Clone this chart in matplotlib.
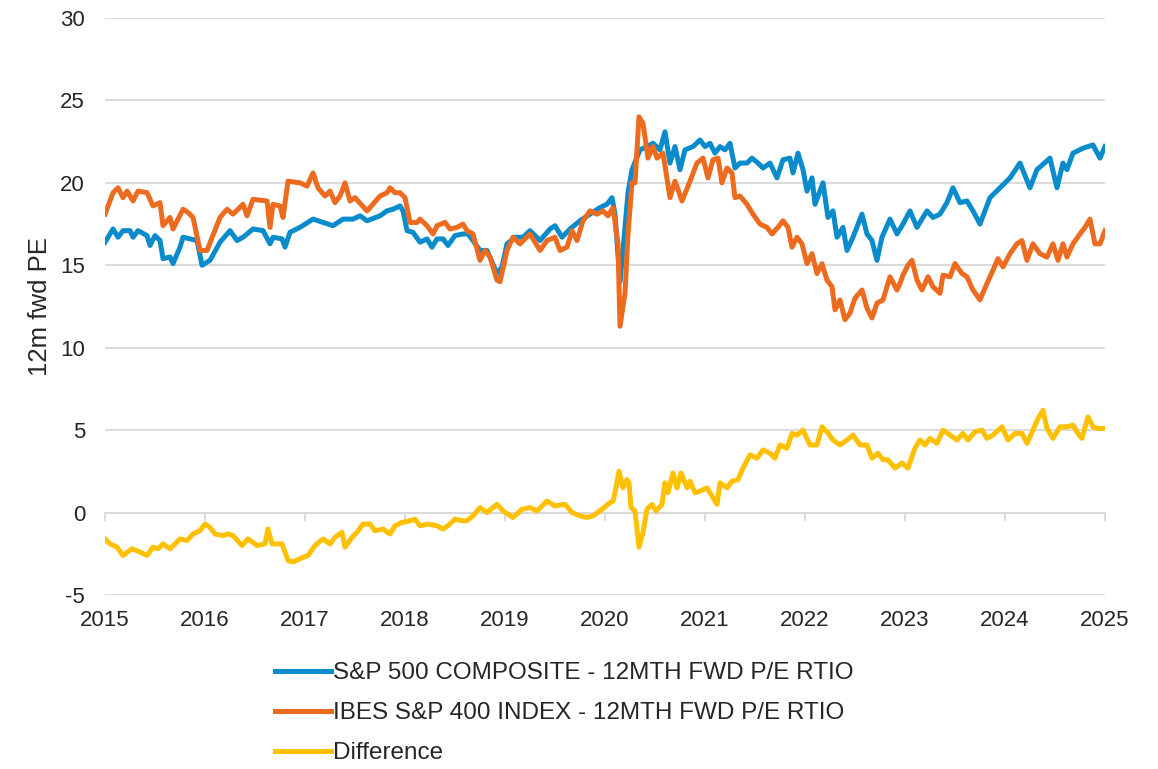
import matplotlib
matplotlib.use('Agg')
from matplotlib import pyplot as plt

# S&P 500 12m fwd PE
spx_t = [2015.00, 2015.08, 2015.13, 2015.18, 2015.25, 2015.28, 2015.33, 2015.42, 2015.45, 2015.50,
         2015.55, 2015.58, 2015.65, 2015.68, 2015.75, 2015.78, 2015.85, 2015.92, 2015.97, 2016.05,
         2016.15, 2016.25, 2016.32, 2016.38, 2016.48, 2016.58, 2016.65, 2016.68, 2016.77, 2016.80,
         2016.85, 2016.95, 2017.08, 2017.18, 2017.28, 2017.38, 2017.48, 2017.55, 2017.62, 2017.75,
         2017.82, 2017.88, 2017.95, 2017.98, 2018.02, 2018.08, 2018.15, 2018.22, 2018.27, 2018.32,
         2018.38, 2018.43, 2018.50, 2018.58, 2018.63, 2018.68, 2018.75, 2018.82, 2018.92, 2018.97,
         2019.02, 2019.10, 2019.18, 2019.25, 2019.35, 2019.45, 2019.50, 2019.57, 2019.65, 2019.75,
         2019.85, 2019.95, 2020.02, 2020.07, 2020.10, 2020.15, 2020.18, 2020.23, 2020.27, 2020.35,
         2020.42, 2020.48, 2020.55, 2020.60, 2020.65, 2020.70, 2020.75, 2020.80, 2020.88, 2020.95,
         2021.00, 2021.05, 2021.10, 2021.15, 2021.20, 2021.25, 2021.30, 2021.35, 2021.42, 2021.47,
         2021.53, 2021.58, 2021.65, 2021.72, 2021.78, 2021.85, 2021.88, 2021.93, 2021.98, 2022.02,
         2022.07, 2022.10, 2022.18, 2022.23, 2022.28, 2022.32, 2022.38, 2022.42, 2022.48, 2022.57,
         2022.62, 2022.67, 2022.72, 2022.77, 2022.85, 2022.92, 2022.98, 2023.05, 2023.12, 2023.22,
         2023.28, 2023.35, 2023.42, 2023.48, 2023.55, 2023.62, 2023.68, 2023.75, 2023.85, 2023.95,
         2024.05, 2024.15, 2024.25, 2024.32, 2024.45, 2024.52, 2024.58, 2024.62, 2024.68, 2024.78,
         2024.88, 2024.95, 2025.00]
spx_pe = [16.4, 17.2, 16.7, 17.1, 17.1, 16.7, 17.1, 16.8, 16.2, 16.8,
          16.5, 15.4, 15.5, 15.1, 16.1, 16.7, 16.6, 16.5, 15.0, 15.3,
          16.4, 17.1, 16.5, 16.7, 17.2, 17.1, 16.3, 16.7, 16.6, 16.1,
          17.0, 17.3, 17.8, 17.6, 17.4, 17.8, 17.8, 18.0, 17.7, 18.0,
          18.3, 18.4, 18.6, 18.3, 17.1, 17.0, 16.4, 16.6, 16.1, 16.6,
          16.6, 16.2, 16.8, 16.9, 16.9, 16.5, 15.9, 15.9, 14.5, 14.9,
          16.3, 16.7, 16.7, 17.1, 16.5, 17.2, 17.4, 16.7, 17.2, 17.7,
          18.1, 18.5, 18.7, 19.1, 18.1, 14.0, 15.9, 19.4, 20.8, 22.0,
          22.2, 22.4, 22.0, 23.1, 21.2, 22.2, 20.8, 22.0, 22.2, 22.6,
          22.2, 22.4, 21.8, 22.2, 22.0, 22.4, 20.9, 21.2, 21.2, 21.5,
          21.2, 20.9, 21.2, 20.3, 21.4, 21.5, 20.6, 21.8, 20.8, 19.5,
          20.3, 18.7, 20.0, 17.9, 18.3, 16.7, 17.3, 15.9, 16.7, 18.1,
          16.9, 16.5, 15.3, 16.7, 17.8, 16.9, 17.5, 18.3, 17.3, 18.3,
          17.9, 18.1, 18.8, 19.7, 18.8, 18.9, 18.3, 17.5, 19.1, 19.7,
          20.3, 21.2, 19.7, 20.8, 21.5, 19.7, 21.2, 20.8, 21.8, 22.1,
          22.3, 21.5, 22.2]

# S&P 400 12m fwd PE
mid_t = [2015.00, 2015.08, 2015.13, 2015.18, 2015.22, 2015.28, 2015.33, 2015.42, 2015.48, 2015.55,
         2015.58, 2015.65, 2015.68, 2015.78, 2015.83, 2015.88, 2015.95, 2016.02, 2016.15, 2016.22,
         2016.28, 2016.38, 2016.42, 2016.48, 2016.62, 2016.65, 2016.68, 2016.75, 2016.78, 2016.83,
         2016.95, 2017.02, 2017.08, 2017.13, 2017.20, 2017.25, 2017.30, 2017.35, 2017.40, 2017.45,
         2017.50, 2017.62, 2017.65, 2017.75, 2017.82, 2017.85, 2017.90, 2017.95, 2018.00, 2018.05,
         2018.12, 2018.15, 2018.22, 2018.28, 2018.32, 2018.40, 2018.45, 2018.52, 2018.58, 2018.62,
         2018.68, 2018.75, 2018.80, 2018.85, 2018.92, 2018.95, 2019.02, 2019.08, 2019.15, 2019.25,
         2019.35, 2019.42, 2019.50, 2019.55, 2019.62, 2019.67, 2019.72, 2019.78, 2019.85, 2019.92,
         2019.98, 2020.03, 2020.08, 2020.13, 2020.15, 2020.20, 2020.23, 2020.27, 2020.30, 2020.34,
         2020.38, 2020.43, 2020.48, 2020.52, 2020.58, 2020.65, 2020.70, 2020.77, 2020.85, 2020.92,
         2020.98, 2021.03, 2021.08, 2021.13, 2021.17, 2021.22, 2021.27, 2021.30, 2021.35, 2021.42,
         2021.48, 2021.55, 2021.62, 2021.67, 2021.73, 2021.78, 2021.83, 2021.87, 2021.92, 2021.97,
         2022.02, 2022.07, 2022.12, 2022.17, 2022.22, 2022.27, 2022.30, 2022.35, 2022.40, 2022.45,
         2022.50, 2022.57, 2022.62, 2022.67, 2022.72, 2022.78, 2022.85, 2022.92, 2022.95, 2022.98,
         2023.03, 2023.07, 2023.12, 2023.17, 2023.23, 2023.28, 2023.35, 2023.38, 2023.45, 2023.50,
         2023.57, 2023.62, 2023.68, 2023.75, 2023.82, 2023.88, 2023.93, 2023.98, 2024.05, 2024.12,
         2024.17, 2024.22, 2024.28, 2024.35, 2024.42, 2024.48, 2024.53, 2024.58, 2024.62, 2024.68,
         2024.75, 2024.80, 2024.85, 2024.90, 2024.95, 2025.00]
mid_pe = [18.1, 19.4, 19.7, 19.1, 19.5, 18.9, 19.5, 19.4, 18.6, 18.8,
          17.4, 17.9, 17.2, 18.4, 18.2, 17.9, 15.9, 15.9, 17.9, 18.4,
          18.1, 18.7, 18.0, 19.0, 18.9, 17.3, 18.7, 18.6, 17.9, 20.1,
          20.0, 19.8, 20.6, 19.7, 19.2, 19.5, 18.8, 19.2, 20.0, 18.9,
          19.1, 18.3, 18.5, 19.2, 19.4, 19.7, 19.4, 19.4, 19.1, 17.6,
          17.6, 17.8, 17.4, 16.9, 17.4, 17.6, 17.2, 17.3, 17.5, 17.1,
          16.9, 15.3, 15.9, 15.5, 14.1, 14.0, 15.9, 16.7, 16.3, 16.9,
          15.9, 16.5, 16.7, 15.9, 16.1, 17.1, 16.5, 17.7, 18.3, 18.1,
          18.3, 18.0, 18.5, 16.3, 11.3, 13.3, 16.9, 20.0, 20.0, 24.0,
          23.6, 21.5, 22.2, 21.5, 21.8, 19.1, 20.1, 18.9, 20.1, 21.2,
          21.5, 20.3, 21.4, 21.5, 20.0, 20.9, 20.6, 19.1, 19.2, 18.7,
          18.1, 17.5, 17.3, 16.9, 17.3, 17.7, 17.3, 16.1, 16.7, 16.3,
          15.1, 15.7, 14.5, 15.1, 14.1, 13.7, 12.3, 12.9, 11.7, 12.1,
          13.0, 13.5, 12.4, 11.8, 12.7, 12.9, 14.3, 13.5, 13.9, 14.4,
          15.0, 15.3, 14.1, 13.5, 14.3, 13.7, 13.3, 14.4, 14.3, 15.1,
          14.5, 14.3, 13.5, 12.9, 13.9, 14.7, 15.4, 14.9, 15.7, 16.3,
          16.5, 15.3, 16.3, 15.7, 15.5, 16.3, 15.3, 16.3, 15.5, 16.3,
          16.9, 17.3, 17.8, 16.3, 16.3, 17.1]

# Difference
diff_t = [2015.00, 2015.05, 2015.12, 2015.18, 2015.27, 2015.35, 2015.42, 2015.48, 2015.53, 2015.58,
          2015.65, 2015.75, 2015.82, 2015.88, 2015.95, 2016.00, 2016.05, 2016.10, 2016.18, 2016.23,
          2016.28, 2016.37, 2016.43, 2016.52, 2016.60, 2016.63, 2016.67, 2016.77, 2016.83, 2016.88,
          2016.95, 2017.03, 2017.10, 2017.18, 2017.25, 2017.30, 2017.37, 2017.40, 2017.47, 2017.52,
          2017.58, 2017.65, 2017.70, 2017.78, 2017.85, 2017.90, 2017.97, 2018.05, 2018.10, 2018.15,
          2018.23, 2018.32, 2018.38, 2018.43, 2018.50, 2018.57, 2018.62, 2018.68, 2018.75, 2018.82,
          2018.92, 2018.98, 2019.08, 2019.17, 2019.25, 2019.32, 2019.42, 2019.50, 2019.60, 2019.67,
          2019.75, 2019.82, 2019.88, 2019.95, 2020.05, 2020.08, 2020.11, 2020.14, 2020.18, 2020.22,
          2020.24, 2020.26, 2020.30, 2020.34, 2020.38, 2020.42, 2020.47, 2020.51, 2020.57, 2020.60,
          2020.63, 2020.68, 2020.72, 2020.76, 2020.82, 2020.85, 2020.90, 2020.95, 2021.02, 2021.07,
          2021.12, 2021.15, 2021.22, 2021.27, 2021.33, 2021.38, 2021.45, 2021.52, 2021.58, 2021.65,
          2021.70, 2021.75, 2021.82, 2021.87, 2021.92, 2021.98, 2022.05, 2022.12, 2022.17, 2022.22,
          2022.28, 2022.35, 2022.42, 2022.48, 2022.55, 2022.62, 2022.67, 2022.73, 2022.78, 2022.83,
          2022.90, 2022.97, 2023.03, 2023.10, 2023.15, 2023.20, 2023.25, 2023.32, 2023.38, 2023.45,
          2023.52, 2023.58, 2023.63, 2023.70, 2023.77, 2023.82, 2023.88, 2023.97, 2024.03, 2024.10,
          2024.17, 2024.22, 2024.28, 2024.33, 2024.38, 2024.42, 2024.48, 2024.55, 2024.62, 2024.68,
          2024.73, 2024.77, 2024.83, 2024.88, 2024.93, 2025.00]
diff_pe = [-1.6, -1.9, -2.1, -2.6, -2.2, -2.4, -2.6, -2.1, -2.2, -1.9,
           -2.2, -1.6, -1.7, -1.3, -1.1, -0.7, -0.9, -1.3, -1.4, -1.3,
           -1.4, -2.0, -1.6, -2.0, -1.9, -1.0, -1.9, -1.9, -2.9, -3.0,
           -2.8, -2.6, -2.0, -1.6, -1.9, -1.5, -1.2, -2.1, -1.5, -1.2,
           -0.7, -0.7, -1.1, -1.0, -1.3, -0.8, -0.6, -0.5, -0.4, -0.8,
           -0.7, -0.8, -1.0, -0.8, -0.4, -0.5, -0.5, -0.2, 0.3, 0.0,
           0.5, 0.1, -0.3, 0.2, 0.3, 0.1, 0.7, 0.4, 0.5, 0.0,
           -0.2, -0.3, -0.2, 0.1, 0.6, 0.7, 1.5, 2.5, 1.5, 2.0,
           1.8, 0.3, 0.1, -2.1, -1.2, 0.2, 0.5, 0.1, 0.5, 1.8,
           1.2, 2.4, 1.5, 2.4, 1.5, 1.9, 1.2, 1.3, 1.5, 1.0,
           0.5, 1.8, 1.5, 1.9, 2.0, 2.7, 3.5, 3.3, 3.8, 3.6,
           3.3, 4.1, 3.9, 4.8, 4.7, 5.0, 4.1, 4.1, 5.2, 4.9,
           4.4, 4.1, 4.4, 4.7, 4.1, 4.1, 3.3, 3.6, 3.2, 3.2,
           2.7, 3.0, 2.7, 3.9, 4.4, 4.1, 4.5, 4.2, 5.0, 4.7,
           4.4, 4.8, 4.4, 4.9, 5.0, 4.5, 4.7, 5.2, 4.4, 4.8,
           4.8, 4.2, 5.0, 5.7, 6.2, 5.1, 4.5, 5.2, 5.2, 5.3,
           4.8, 4.5, 5.8, 5.2, 5.1, 5.1]

years = list(range(2015, 2026))
y_ticks = [-5, 0, 5, 10, 15, 20, 25, 30]

names = ['S&P 500 COMPOSITE - 12MTH FWD P/E RTIO',
         'IBES S&P 400 INDEX - 12MTH FWD P/E RTIO',
         'Difference']
colors = ['#0A8BCB', '#EC6B1F', '#FFC000']
grid_col = '#D9D9D9'
text_col = '#262626'

plt.rcParams['font.family'] = ['Liberation Sans', 'DejaVu Sans']

fig = plt.figure(figsize=(11.58, 7.69), dpi=100)
ax = fig.add_axes([0.0907, 0.2263, 0.8635, 0.7503])

lw = 3.6
l1, = ax.plot(spx_t, spx_pe, color=colors[0], lw=lw, solid_joinstyle='round', zorder=3)
l2, = ax.plot(mid_t, mid_pe, color=colors[1], lw=lw, solid_joinstyle='round', zorder=4)
l3, = ax.plot(diff_t, diff_pe, color=colors[2], lw=lw, solid_joinstyle='round', zorder=3)

ax.set_xlim(2015, 2025)
ax.set_ylim(-5, 30)
ax.set_yticks(y_ticks)
ax.set_yticklabels([str(v) for v in y_ticks])
ax.yaxis.grid(True, color=grid_col, lw=1.3)
ax.set_axisbelow(True)
ax.tick_params(axis='y', length=0, pad=14.4, labelsize=16, labelcolor=text_col)

for s in ['left', 'right', 'top']:
    ax.spines[s].set_visible(False)
# horizontal axis sits on zero, labels stay at the bottom
ax.spines['bottom'].set_position(('data', 0))
ax.spines['bottom'].set_color(grid_col)
ax.spines['bottom'].set_linewidth(1.3)
ax.set_xticks(years)
ax.tick_params(axis='x', direction='out', length=6, width=1.3, color=grid_col, labelbottom=False)

sec = ax.secondary_xaxis(0)
sec.set_xticks(years)
sec.set_xticklabels([str(y) for y in years])
sec.tick_params(length=0, pad=11, labelsize=16, labelcolor=text_col)
sec.spines['bottom'].set_visible(False)

ax.set_ylabel('12m fwd PE', fontsize=18.5, color=text_col, labelpad=6)

fig.legend([l1, l2, l3], names, loc='upper left', bbox_to_anchor=(0.2375, 0.139),
           frameon=False, fontsize=17.5, handlelength=2.3, handletextpad=0.1,
           labelspacing=0.74, borderaxespad=0, borderpad=0, labelcolor=text_col)

fig.savefig('out.png', dpi=100)
